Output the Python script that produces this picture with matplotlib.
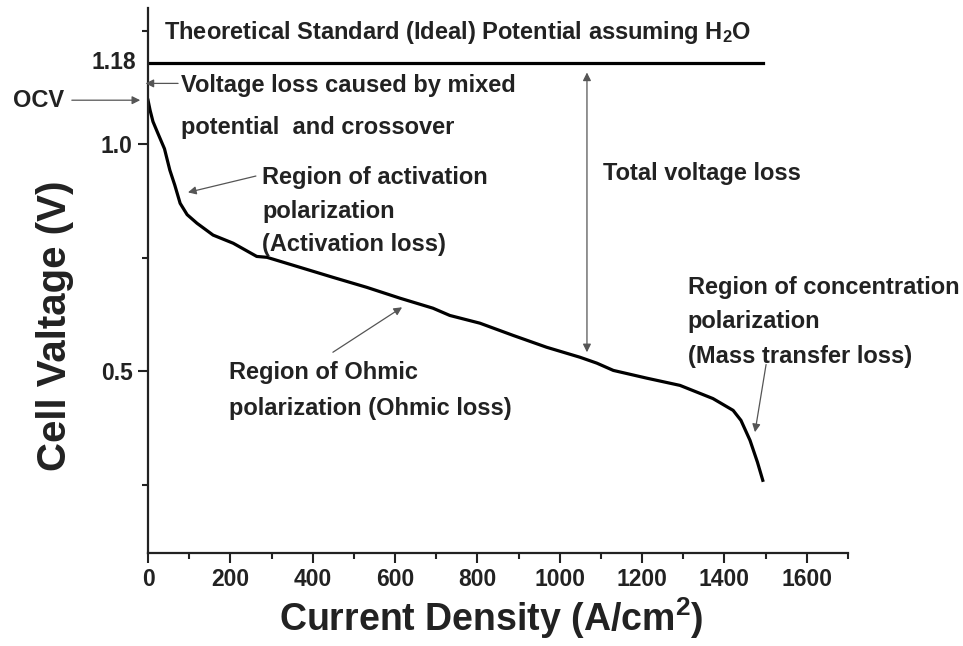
import numpy as np
import matplotlib
matplotlib.use('Agg')
import matplotlib.pyplot as plt
from matplotlib.ticker import MultipleLocator, FormatStrFormatter

plt.rcParams['font.family'] = ['Liberation Sans', 'DejaVu Sans']
plt.rcParams['font.weight'] = 'bold'
plt.rcParams['mathtext.default'] = 'regular'

# polarization curve
current = [0, 5, 12, 24, 40, 53, 65, 78, 95, 119, 158, 207, 264, 289, 369, 449,
           531, 612, 692, 733, 806, 887, 968, 1049, 1090, 1130, 1211, 1292,
           1372, 1421, 1440, 1462, 1480, 1493]
voltage = [1.097, 1.075, 1.05, 1.024, 0.99, 0.943, 0.91, 0.87, 0.845, 0.826,
           0.80, 0.782, 0.753, 0.751, 0.729, 0.707, 0.685, 0.661, 0.639, 0.623,
           0.606, 0.579, 0.553, 0.531, 0.518, 0.502, 0.485, 0.469, 0.44, 0.414,
           0.392, 0.348, 0.30, 0.26]
e_ideal = 1.18
ocv = 1.097

txt = '#222222'
fs = 17
arr = dict(arrowstyle='-|>', color='#555555', lw=0.9, mutation_scale=12,
           shrinkA=0, shrinkB=0)

fig = plt.figure(figsize=(9.63, 6.46), dpi=100)
ax = fig.add_axes([0.1537, 0.144, 0.7269, 0.8436])

ax.plot(current, voltage, color='black', lw=2.3)
ax.plot([0, current[-1]], [e_ideal, e_ideal], color='black', lw=2.3)

ax.set_xlim(0, 1700)
ax.set_ylim(0.1, 1.3)
ax.xaxis.set_major_locator(MultipleLocator(200))
ax.xaxis.set_minor_locator(MultipleLocator(100))
ax.yaxis.set_major_locator(MultipleLocator(0.5))
ax.yaxis.set_minor_locator(MultipleLocator(0.25))
ax.yaxis.set_major_formatter(FormatStrFormatter('%.1f'))
for s in ['top', 'right']:
    ax.spines[s].set_visible(False)
for s in ['left', 'bottom']:
    ax.spines[s].set_linewidth(1.6)
    ax.spines[s].set_color('#222222')
ax.tick_params(which='major', direction='out', length=7, width=1.5,
               labelsize=16.5, colors='#222222', pad=4)
ax.tick_params(which='minor', direction='out', length=4, width=1.5, colors='#222222')

ax.set_xlabel('Current Density (A/cm$^2$)', fontsize=27, fontweight='bold',
              color=txt)
ax.xaxis.set_label_coords(0.49, -0.078)
ax.set_ylabel('Cell Valtage (V)', fontsize=29, fontweight='bold', color=txt)
ax.yaxis.set_label_coords(-0.106, 0.4165)

ax.text(-30, e_ideal, '1.18', ha='right', va='center', fontsize=16.5, color=txt,
        clip_on=False)
ax.text(40, 1.245, 'Theoretical Standard (Ideal) Potential assuming H$_2$O',
        ha='left', va='center', fontsize=fs, color=txt)

# OCV
ax.text(-265, ocv, 'OCV', ha='center', va='center', fontsize=fs, color=txt,
        clip_on=False)
ax.annotate('', xy=(-19, ocv), xytext=(-185, ocv), arrowprops=arr,
            annotation_clip=False)

# mixed potential
ax.text(80, 1.13, 'Voltage loss caused by mixed', ha='left', va='center',
        fontsize=fs, color=txt)
ax.text(80, 1.037, 'potential  and crossover', ha='left', va='center',
        fontsize=fs, color=txt)
ax.annotate('', xy=(-6, 1.134), xytext=(73, 1.134), arrowprops=arr,
            annotation_clip=False)

# activation
ax.text(277, 0.853, 'Region of activation\npolarization\n(Activation loss)',
        ha='left', va='center', fontsize=fs, color=txt, linespacing=1.58)
ax.annotate('', xy=(97, 0.894), xytext=(262, 0.93), arrowprops=arr)

# total loss
ax.annotate('', xy=(1066, 1.158), xytext=(1066, 0.542),
            arrowprops=dict(arrowstyle='<|-|>', color='#555555', lw=0.9,
                            mutation_scale=12, shrinkA=0, shrinkB=0))
ax.text(1105, 0.936, 'Total voltage loss', ha='left', va='center',
        fontsize=fs, color=txt)

# ohmic
ax.text(197, 0.458, 'Region of Ohmic\npolarization (Ohmic loss)', ha='left',
        va='center', fontsize=fs, color=txt, linespacing=1.7)
ax.annotate('', xy=(617, 0.641), xytext=(449, 0.542), arrowprops=arr)

# concentration
ax.text(1311, 0.609, 'Region of concentration\npolarization\n(Mass transfer loss)',
        ha='left', va='center', fontsize=fs, color=txt, linespacing=1.65)
ax.annotate('', xy=(1474, 0.366), xytext=(1501, 0.515), arrowprops=arr)

fig.savefig('out.png', dpi=100)
